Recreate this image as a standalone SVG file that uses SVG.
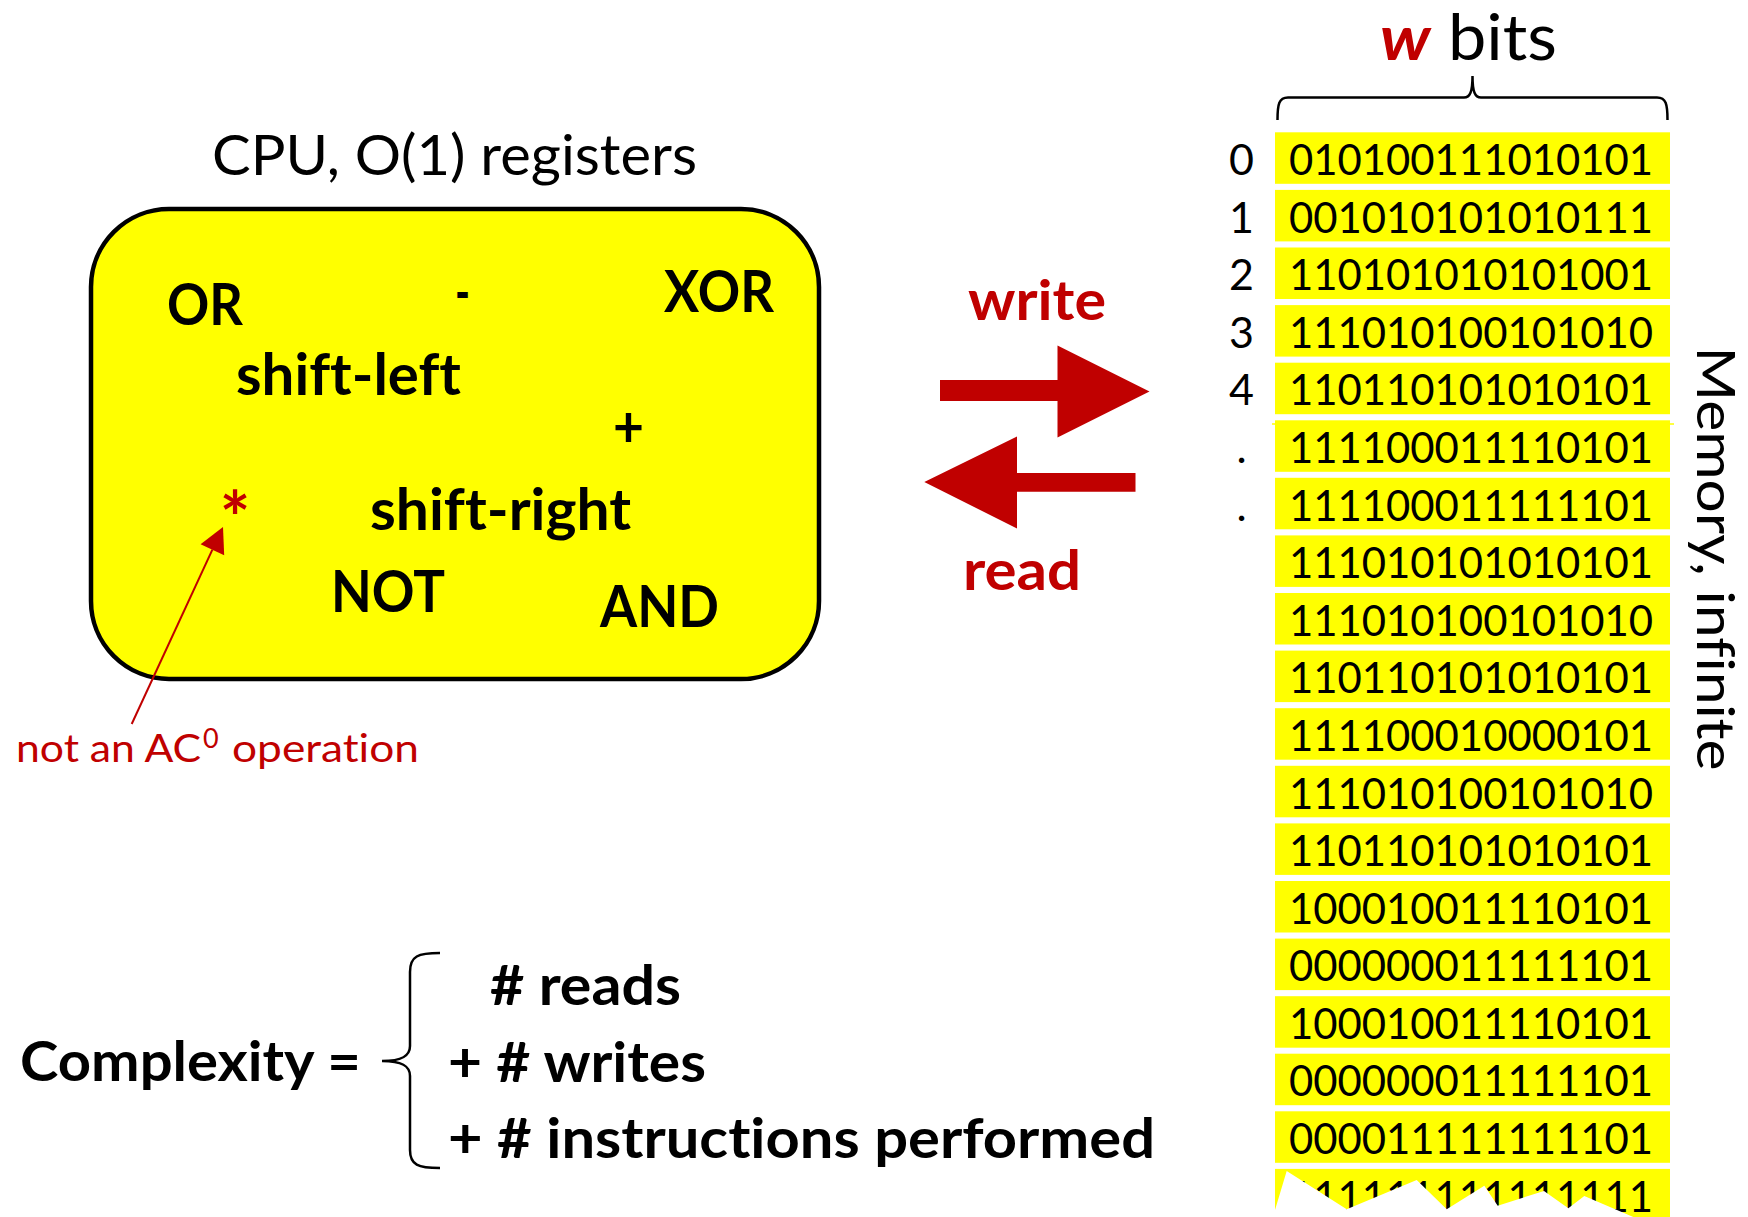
<svg xmlns="http://www.w3.org/2000/svg" width="1748" height="1217" viewBox="0 0 1748 1217">
<style>
text { font-family: Lato, "Liberation Sans", "DejaVu Sans", sans-serif; fill: #000; font-variant-ligatures: none; font-feature-settings: "liga" 0, "dlig" 0; }
.bd { font-weight: 700; }
.rd { fill: #C00000; }
.yl { fill: #FFFF00; }
.dg { font-size: 43px; }
.op { font-size: 57px; font-weight: 700; }
.ast { font-size: 72px; font-weight: 700; }
.cell { fill: #FFFF00; }
.brace { fill: none; stroke: #000; stroke-width: 2.5; }
</style>
<rect width="1748" height="1217" fill="#fff"/>

<g id="cpu">
  <text x="212" y="175" font-size="57" textLength="485" lengthAdjust="spacingAndGlyphs">CPU, O(1) registers</text>
  <rect x="91" y="209" width="728" height="470" rx="78" ry="78" fill="#FFFF00" stroke="#000" stroke-width="4.5"/>
  <text class="op" x="167" y="325" textLength="76" lengthAdjust="spacingAndGlyphs">OR</text>
  <text class="op" x="455" y="312" textLength="15" lengthAdjust="spacingAndGlyphs">-</text>
  <text class="op" x="664" y="312" textLength="110" lengthAdjust="spacingAndGlyphs">XOR</text>
  <text class="op" x="236" y="394.5" textLength="225" lengthAdjust="spacingAndGlyphs">shift-left</text>
  <text class="op" x="613" y="447" textLength="31" lengthAdjust="spacingAndGlyphs">+</text>
  <text class="ast rd" x="235" y="545" text-anchor="middle">*</text>
  <text class="op" x="370" y="529.5" textLength="261" lengthAdjust="spacingAndGlyphs">shift-right</text>
  <text class="op" x="331" y="612" textLength="114" lengthAdjust="spacingAndGlyphs">NOT</text>
  <text class="op" x="600" y="627" textLength="119" lengthAdjust="spacingAndGlyphs">AND</text>
</g>

<g id="note">
  <text class="rd" font-size="39" y="761.5"><tspan x="16" textLength="185" lengthAdjust="spacingAndGlyphs">not an AC</tspan><tspan x="203" y="748" font-size="27">0</tspan><tspan x="232" y="761.5" textLength="187" lengthAdjust="spacingAndGlyphs">operation</tspan></text>
</g>

<g id="connectors">
  <line x1="131.7" y1="724" x2="212.4" y2="549.7" stroke="#C00000" stroke-width="2"/>
  <polygon points="223,527 224.2,555.2 200.6,544.2" fill="#C00000"/>
  <polygon points="940,380 1057.5,380 1057.5,345.6 1149.5,391.5 1057.5,437.5 1057.5,401 940,401" fill="#C00000"/>
  <polygon points="1135.5,473 1017,473 1017,436.5 924.3,482 1017,528.5 1017,491.7 1135.5,491.7" fill="#C00000"/>
  <text class="bd rd" x="968" y="319.5" font-size="55" textLength="138" lengthAdjust="spacingAndGlyphs">write</text>
  <text class="bd rd" x="963" y="589.5" font-size="55" textLength="118" lengthAdjust="spacingAndGlyphs">read</text>
</g>

<g id="memory">
  <text x="1380" y="59.5" font-size="63" textLength="177" lengthAdjust="spacingAndGlyphs"><tspan class="rd" font-weight="700" font-style="italic">w</tspan> bits</text>
  <path class="brace" d="M1277.5,120 C1277.5,104 1279,97.5 1288,97.5 L1464,97.5 C1470,97.5 1472.5,92 1472.5,76 C1472.5,92 1475,97.5 1481,97.5 L1657,97.5 C1666,97.5 1667.5,104 1667.5,120"/>
  <text x="1697" y="558.5" font-size="52" text-anchor="middle" textLength="424" lengthAdjust="spacingAndGlyphs" transform="rotate(90 1697 558.5)">Memory, infinite</text>
  <g class="dg" text-anchor="middle">
    <text x="1241.5" y="175">0</text>
    <text x="1241.5" y="232.6">1</text>
    <text x="1241.5" y="290.2">2</text>
    <text x="1241.5" y="347.8">3</text>
    <text x="1241.5" y="405.4">4</text>
    <text x="1241.5" y="463">.</text>
    <text x="1241.5" y="520.5">.</text>
  </g>
  <g id="rows">
    <rect class="cell" x="1275" y="132.3" width="395" height="51.5"/>
    <rect class="cell" x="1275" y="189.9" width="395" height="51.5"/>
    <rect class="cell" x="1275" y="247.5" width="395" height="51.5"/>
    <rect class="cell" x="1275" y="305.1" width="395" height="51.5"/>
    <rect class="cell" x="1275" y="362.7" width="395" height="51.5"/>
    <rect class="cell" x="1275" y="420.3" width="395" height="51.5"/>
    <rect class="cell" x="1275" y="477.8" width="395" height="51.5"/>
    <rect class="cell" x="1275" y="535.4" width="395" height="51.5"/>
    <rect class="cell" x="1275" y="593.0" width="395" height="51.5"/>
    <rect class="cell" x="1275" y="650.6" width="395" height="51.5"/>
    <rect class="cell" x="1275" y="708.2" width="395" height="51.5"/>
    <rect class="cell" x="1275" y="765.8" width="395" height="51.5"/>
    <rect class="cell" x="1275" y="823.4" width="395" height="51.5"/>
    <rect class="cell" x="1275" y="881.0" width="395" height="51.5"/>
    <rect class="cell" x="1275" y="938.6" width="395" height="51.5"/>
    <rect class="cell" x="1275" y="996.2" width="395" height="51.5"/>
    <rect class="cell" x="1275" y="1053.7" width="395" height="51.5"/>
    <rect class="cell" x="1275" y="1111.3" width="395" height="51.5"/>
    <rect class="cell" x="1275" y="1168.9" width="395" height="48.1"/>
    <line x1="1272" y1="424" x2="1674" y2="424" stroke="#FFFF00" stroke-width="1.5"/>
  </g>
  <g class="dg">
    <text x="1289" y="175" textLength="364" lengthAdjust="spacingAndGlyphs">010100111010101</text>
    <text x="1289" y="232.6" textLength="364" lengthAdjust="spacingAndGlyphs">001010101010111</text>
    <text x="1289" y="290.2" textLength="364" lengthAdjust="spacingAndGlyphs">110101010101001</text>
    <text x="1289" y="347.8" textLength="364" lengthAdjust="spacingAndGlyphs">111010100101010</text>
    <text x="1289" y="405.4" textLength="364" lengthAdjust="spacingAndGlyphs">110110101010101</text>
    <text x="1289" y="463" textLength="364" lengthAdjust="spacingAndGlyphs">111100011110101</text>
    <text x="1289" y="520.5" textLength="364" lengthAdjust="spacingAndGlyphs">111100011111101</text>
    <text x="1289" y="578.1" textLength="364" lengthAdjust="spacingAndGlyphs">111010101010101</text>
    <text x="1289" y="635.7" textLength="364" lengthAdjust="spacingAndGlyphs">111010100101010</text>
    <text x="1289" y="693.3" textLength="364" lengthAdjust="spacingAndGlyphs">110110101010101</text>
    <text x="1289" y="750.9" textLength="364" lengthAdjust="spacingAndGlyphs">111100010000101</text>
    <text x="1289" y="808.5" textLength="364" lengthAdjust="spacingAndGlyphs">111010100101010</text>
    <text x="1289" y="866.1" textLength="364" lengthAdjust="spacingAndGlyphs">110110101010101</text>
    <text x="1289" y="923.7" textLength="364" lengthAdjust="spacingAndGlyphs">100010011110101</text>
    <text x="1289" y="981.3" textLength="364" lengthAdjust="spacingAndGlyphs">000000011111101</text>
    <text x="1289" y="1038.9" textLength="364" lengthAdjust="spacingAndGlyphs">100010011110101</text>
    <text x="1289" y="1096.4" textLength="364" lengthAdjust="spacingAndGlyphs">000000011111101</text>
    <text x="1289" y="1154" textLength="364" lengthAdjust="spacingAndGlyphs">000011111111101</text>
    <text x="1289" y="1211.6" textLength="364" lengthAdjust="spacingAndGlyphs">111111111111111</text>
  </g>
  <polygon points="1275,1217 1275,1210 1286.7,1171 1346.7,1209.3 1416.7,1180 1446.7,1209.3 1484.3,1185.7 1497.7,1205.7 1544,1191 1568.3,1208.3 1584.3,1196 1633.3,1217" fill="#fff"/>
</g>

<g id="complexity">
  <text class="bd" x="20" y="1081" font-size="56" textLength="341" lengthAdjust="spacingAndGlyphs">Complexity =</text>
  <path class="brace" d="M440,953 C418,953 410,956 410,972 L410,1046 C410,1056 402,1061 382,1061 C402,1061 410,1066 410,1076 L410,1150 C410,1165 418,1168 440,1168"/>
  <text class="bd" x="490" y="1005" font-size="56" textLength="191" lengthAdjust="spacingAndGlyphs"># reads</text>
  <text class="bd" x="448" y="1081.5" font-size="56" textLength="258" lengthAdjust="spacingAndGlyphs">+ # writes</text>
  <text class="bd" x="448" y="1158" font-size="56" textLength="707" lengthAdjust="spacingAndGlyphs">+ # instructions performed</text>
</g>
</svg>
